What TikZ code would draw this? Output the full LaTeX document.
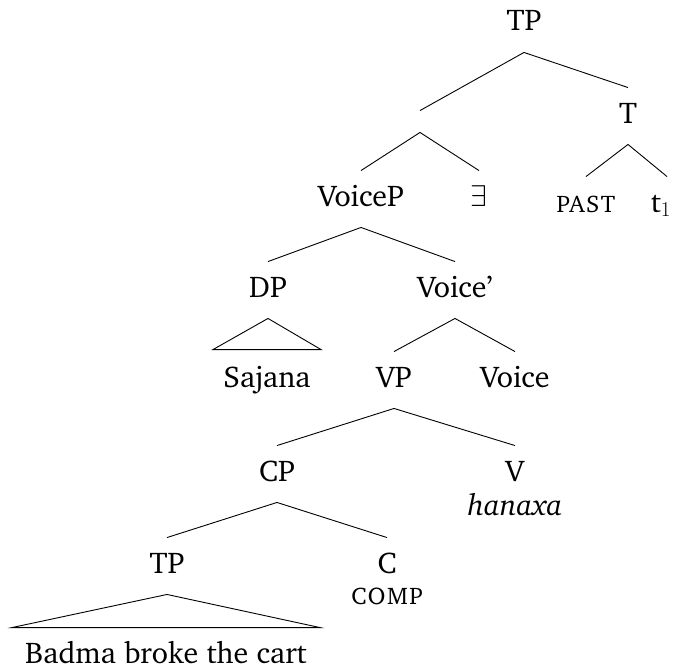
\RequirePackage{fix-cm}
\documentclass[tikz,border=0pt]{standalone}
\usepackage[T1]{fontenc}
\usepackage{charter}
\usepackage{tikz}

\begin{document}
\begin{tikzpicture}[x=1pt, y=-1pt, font=\fontsize{30}{36}\selectfont,
    lab/.style={anchor=base, inner sep=0pt, text height=35pt, text depth=21pt},
    gap/.style={inner sep=0pt, minimum height=21pt, minimum width=0pt},
    every path/.style={line width=0.9pt}]
    \useasboundingbox (0,0) rectangle (674,669);
    \node[lab] (TP) at (524, 31) {TP};
    \node[gap] (X) at (420, 121.5) {};
    \node[lab] (T) at (628, 123) {T};
    \node[lab] (VoiceP) at (361, 206) {VoiceP};
    \node[lab] (E) at (479, 206) {$\exists$};
    \node[lab] (PAST) at (586, 212) {\textsc{past}};
    \node[lab] (t1) at (661, 212) {t$_1$};
    \node[lab] (DP) at (268, 297) {DP};
    \node[lab] (Vbar) at (455, 297) {Voice'};
    \node[lab] (Sajana) at (267, 387) {Sajana};
    \node[lab] (VP) at (394, 387) {VP};
    \node[lab] (Voice) at (515, 387) {Voice};
    \node[lab] (CP) at (277, 481) {CP};
    \node[lab] (V) at (515, 481) {V};
    \node[lab] (hanaxa) at (515, 515) {\textit{hanaxa}};
    \node[lab] (TPlow) at (167, 573) {TP};
    \node[lab] (C) at (387, 573) {C};
    \node[lab] (COMP) at (387, 604) {\textsc{comp}};
    \node[lab] (Badma) at (166, 663) {Badma broke the cart};

    % 枝を引く
    \draw (TP.south) -- (X.north);
    \draw (TP.south) -- (T.north);
    \draw (X.south) -- (VoiceP.north);
    \draw (X.south) -- (E.north);
    \draw (T.south) -- (PAST.north);
    \draw (T.south) -- ([xshift=6pt]t1.north);
    \draw (VoiceP.south) -- (DP.north);
    \draw (VoiceP.south) -- (Vbar.north);
    \draw (DP.south) -- ([xshift=-54pt, yshift=2pt]Sajana.north)
        -- ([xshift=54pt, yshift=2pt]Sajana.north) -- cycle;
    \draw (Vbar.south) -- (VP.north);
    \draw (Vbar.south) -- (Voice.north);
    \draw (VP.south) -- (CP.north);
    \draw (VP.south) -- (V.north);
    \draw (CP.south) -- (TPlow.north);
    \draw (CP.south) -- (C.north);
    \draw (TPlow.south) -- ([xshift=-154pt]Badma.north)
        -- ([xshift=154pt]Badma.north) -- cycle;
\end{tikzpicture}
\end{document}
